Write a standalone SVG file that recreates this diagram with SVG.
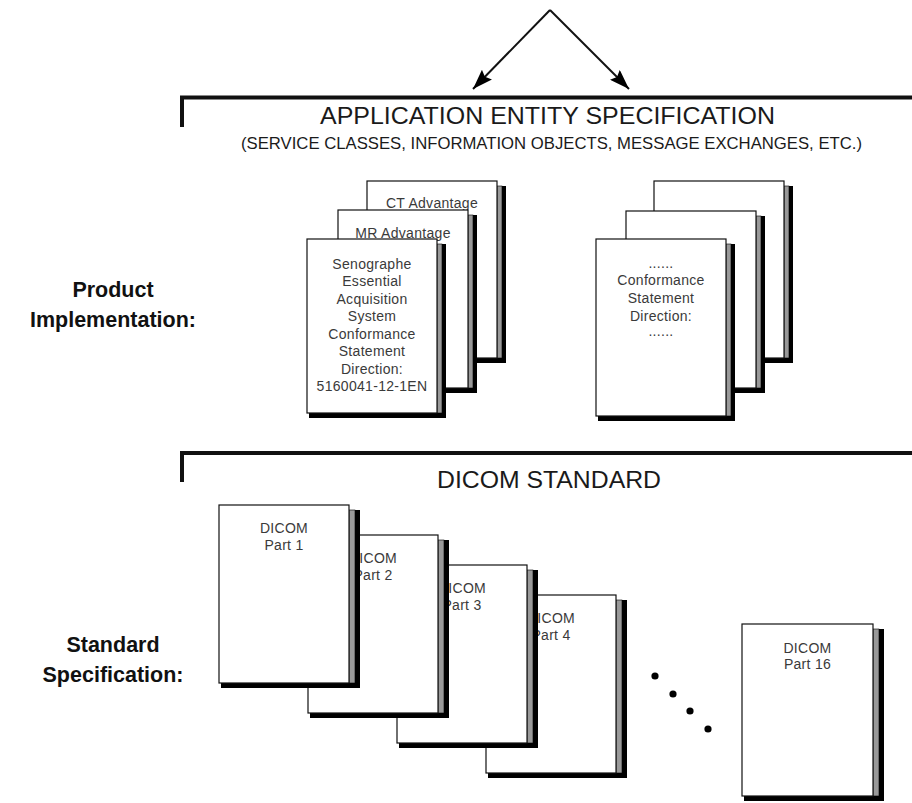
<svg xmlns="http://www.w3.org/2000/svg" width="912" height="803" viewBox="0 0 912 803">
<style>
.sh{fill:#000}
.side{fill:#999;stroke:#000;stroke-width:0.6}
.page{fill:#fff;stroke:#111;stroke-width:1.2}
.dt{font-family:"Liberation Sans",Arial,sans-serif;font-size:14px;letter-spacing:0.3px;fill:#3a3a3a;text-anchor:middle}
.lbl{font-family:"Liberation Sans",Arial,sans-serif;font-size:21.5px;font-weight:bold;fill:#111;text-anchor:middle}
.ttl{font-family:"Liberation Sans",Arial,sans-serif;fill:#1a1a1a}
.br{fill:none;stroke:#111;stroke-width:4}
.con{fill:none;stroke:#111;stroke-width:2}
</style>
<defs>
<marker id="ah" markerUnits="userSpaceOnUse" markerWidth="22" markerHeight="14" refX="20" refY="7" orient="auto">
<path d="M0,0 L20,7 L0,14 L3,7 z" fill="#000"/>
</marker>
</defs>
<rect width="912" height="803" fill="#fff"/>

<g id="connectors">
<path class="con" d="M550,10 L473,89" marker-end="url(#ah)"/>
<path class="con" d="M550,10 L629,89" marker-end="url(#ah)"/>
</g>

<path class="br" d="M182,127 L182,97.5 L912,97.5"/>
<text class="ttl" x="320" y="123.5" font-size="24" textLength="455" lengthAdjust="spacingAndGlyphs">APPLICATION ENTITY SPECIFICATION</text>
<text class="ttl" x="241" y="148.5" font-size="16.5" textLength="621" lengthAdjust="spacingAndGlyphs">(SERVICE CLASSES, INFORMATION OBJECTS, MESSAGE EXCHANGES, ETC.)</text>

<text class="lbl" x="113" y="297">Product</text>
<text class="lbl" x="113" y="327">Implementation:</text>

<g id="doc-ct">
<rect class="sh" x="369" y="186" width="137" height="177"/>
<rect class="side" x="497" y="186" width="5" height="172"/>
<rect class="page" x="367" y="181" width="130" height="177"/>
<text class="dt" x="432" y="208">CT Advantage</text>
</g>
<g id="doc-mr">
<rect class="sh" x="340" y="215" width="137" height="178"/>
<rect class="side" x="468" y="215" width="5" height="173"/>
<rect class="page" x="338" y="210" width="130" height="178"/>
<text class="dt" x="403" y="238">MR Advantage</text>
</g>
<g id="doc-senographe">
<rect class="sh" x="309" y="244" width="137" height="174"/>
<rect class="side" x="437" y="244" width="5" height="169"/>
<rect class="page" x="307" y="239" width="130" height="174"/>
<text class="dt" x="372" y="268.5">Senographe</text>
<text class="dt" x="372" y="286">Essential</text>
<text class="dt" x="372" y="303.5">Acquisition</text>
<text class="dt" x="372" y="321">System</text>
<text class="dt" x="372" y="338.5">Conformance</text>
<text class="dt" x="372" y="356">Statement</text>
<text class="dt" x="372" y="373.5">Direction:</text>
<text class="dt" x="372" y="391">5160041-12-1EN</text>
</g>

<g id="doc-r3">
<rect class="sh" x="656" y="186" width="137" height="177"/>
<rect class="side" x="784" y="186" width="5" height="172"/>
<rect class="page" x="654" y="181" width="130" height="177"/>
</g>
<g id="doc-r2">
<rect class="sh" x="628" y="216" width="137" height="177"/>
<rect class="side" x="756" y="216" width="5" height="172"/>
<rect class="page" x="626" y="211" width="130" height="177"/>
</g>
<g id="doc-r1">
<rect class="sh" x="598" y="244" width="137" height="177"/>
<rect class="side" x="726" y="244" width="5" height="172"/>
<rect class="page" x="596" y="239" width="130" height="177"/>
<text class="dt" x="661" y="268">......</text>
<text class="dt" x="661" y="285">Conformance</text>
<text class="dt" x="661" y="303">Statement</text>
<text class="dt" x="661" y="321">Direction:</text>
<text class="dt" x="661" y="336">......</text>
</g>

<path class="br" d="M182,482 L182,453 L912,453"/>
<text class="ttl" x="437" y="488" font-size="23" textLength="224" lengthAdjust="spacingAndGlyphs">DICOM STANDARD</text>

<text class="lbl" x="113" y="652">Standard</text>
<text class="lbl" x="113" y="682">Specification:</text>

<g id="dicom-part4">
<rect class="sh" x="488" y="600" width="139" height="178"/>
<rect class="side" x="616" y="600" width="6" height="173"/>
<rect class="page" x="486" y="595" width="130" height="178"/>
<text class="dt" x="551" y="623">DICOM</text>
<text class="dt" x="551" y="640">Part 4</text>
</g>
<g id="dicom-part3">
<rect class="sh" x="399" y="570" width="139" height="178"/>
<rect class="side" x="527" y="570" width="6" height="173"/>
<rect class="page" x="397" y="565" width="130" height="178"/>
<text class="dt" x="462" y="593">DICOM</text>
<text class="dt" x="462" y="610">Part 3</text>
</g>
<g id="dicom-part2">
<rect class="sh" x="310" y="540" width="139" height="178"/>
<rect class="side" x="438" y="540" width="6" height="173"/>
<rect class="page" x="308" y="535" width="130" height="178"/>
<text class="dt" x="373" y="563">DICOM</text>
<text class="dt" x="373" y="580">Part 2</text>
</g>
<g id="dicom-part1">
<rect class="sh" x="221" y="510" width="139" height="178"/>
<rect class="side" x="349" y="510" width="6" height="173"/>
<rect class="page" x="219" y="505" width="130" height="178"/>
<text class="dt" x="284" y="533">DICOM</text>
<text class="dt" x="284" y="550">Part 1</text>
</g>

<g id="ellipsis" fill="#000">
<circle cx="655" cy="676" r="3.6"/>
<circle cx="673" cy="694" r="3.6"/>
<circle cx="690" cy="711" r="3.6"/>
<circle cx="708" cy="729" r="3.6"/>
</g>

<g id="dicom-part16">
<rect class="sh" x="744" y="629" width="140" height="172"/>
<rect class="side" x="873" y="629" width="6" height="167"/>
<rect class="page" x="742" y="624" width="131" height="172"/>
<text class="dt" x="807.5" y="652.5">DICOM</text>
<text class="dt" x="807.5" y="669">Part 16</text>
</g>
</svg>
